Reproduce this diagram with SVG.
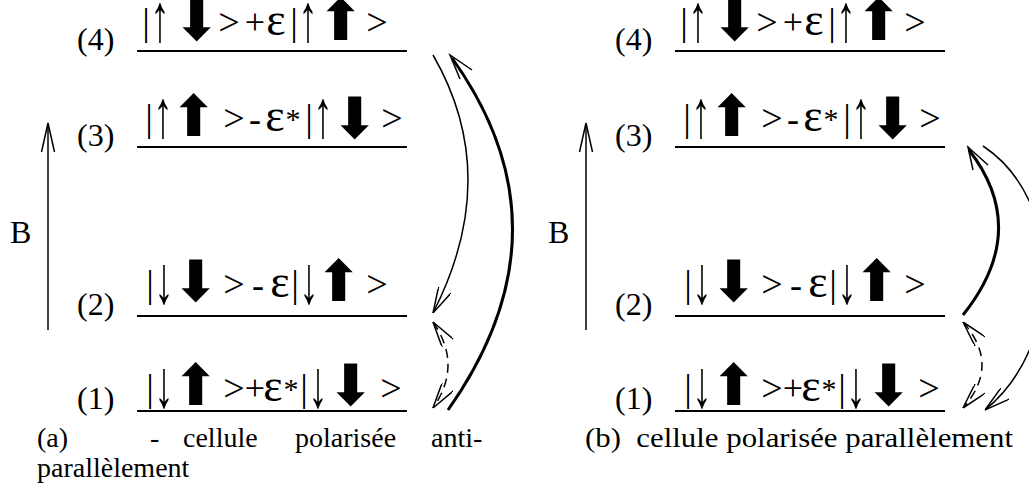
<svg xmlns="http://www.w3.org/2000/svg" width="1029" height="484" viewBox="0 0 1029 484">
<style>
text{fill:#000}
.t{font-family:"Liberation Serif",serif;font-size:38px;text-anchor:middle}
.pm{font-family:"Liberation Serif",serif;font-size:36px;text-anchor:middle}
.ep{font-family:"Liberation Serif",serif;font-size:46px;text-anchor:middle}
.as{font-family:"Liberation Serif",serif;font-size:30px;text-anchor:middle}
.ta{font-family:"Liberation Serif",serif;font-size:32px;text-anchor:middle}
.bk{font-family:"DejaVu Sans",sans-serif;font-size:57px;text-anchor:middle}
.lb{font-family:"Liberation Serif",serif;font-size:32px}
.cap{font-family:"Liberation Serif",serif;font-size:28px}
.lvl{stroke:#000;stroke-width:2}
.ax{fill:none;stroke:#000;stroke-width:1.5}
.thin{fill:none;stroke:#000;stroke-width:1.5}
.thick{fill:none;stroke:#000;stroke-width:3}
.dash{fill:none;stroke:#000;stroke-width:1.5;stroke-dasharray:9 6}
</style>
<defs>
<marker id="ah" viewBox="0 0 26 14" refX="26" refY="7" markerWidth="26" markerHeight="14" markerUnits="userSpaceOnUse" orient="auto-start-reverse">
<path d="M0,0 L26,7 L0,14" fill="none" stroke="#000" stroke-width="1.5"/>
</marker>
</defs>
<g id="panel-a">
<g id="a-axis">
<line class="ax" x1="48" y1="330" x2="48" y2="124"/>
<path class="ax" d="M41.5,152 L48,123 L54.5,152"/>
<text class="lb" x="10" y="243">B</text>
</g>
<g id="a-level4">
<text class="lb" x="77" y="50">(4)</text>
<line class="lvl" x1="137" y1="51" x2="407" y2="51"/>
<text class="t" x="146" y="35">|</text>
<text class="ta" transform="translate(160,41) scale(1.2,2.12)">↑</text>
<text class="bk" x="197" y="40">⬇</text>
<text class="t" x="229" y="35">&gt;</text>
<text class="pm" x="255" y="34">+</text>
<text class="ep" x="276" y="35">ε</text>
<text class="t" x="294" y="35">|</text>
<text class="ta" transform="translate(308,41) scale(1.2,2.12)">↑</text>
<text class="bk" x="341" y="40">⬆</text>
<text class="t" x="377" y="35">&gt;</text>
</g>
<g id="a-level3">
<text class="lb" x="77" y="146">(3)</text>
<line class="lvl" x1="137" y1="147" x2="407" y2="147"/>
<text class="t" x="149" y="131">|</text>
<text class="ta" transform="translate(163,137) scale(1.2,2.12)">↑</text>
<text class="bk" x="194" y="136">⬆</text>
<text class="t" x="234" y="131">&gt;</text>
<text class="pm" x="255" y="131">-</text>
<text class="ep" x="275" y="131">ε</text>
<text class="as" x="293" y="129">*</text>
<text class="t" x="309" y="131">|</text>
<text class="ta" transform="translate(323,137) scale(1.2,2.12)">↑</text>
<text class="bk" x="355" y="138">⬇</text>
<text class="t" x="392" y="131">&gt;</text>
</g>
<g id="a-level2">
<text class="lb" x="77" y="315">(2)</text>
<line class="lvl" x1="137" y1="316" x2="407" y2="316"/>
<text class="t" x="150" y="297">|</text>
<text class="ta" transform="translate(164,303) scale(1.2,2.12)">↓</text>
<text class="bk" x="196" y="301">⬇</text>
<text class="t" x="234" y="297">&gt;</text>
<text class="pm" x="258" y="297">-</text>
<text class="ep" x="280" y="297">ε</text>
<text class="t" x="295" y="297">|</text>
<text class="ta" transform="translate(309,303) scale(1.2,2.12)">↓</text>
<text class="bk" x="339" y="301">⬆</text>
<text class="t" x="377" y="297">&gt;</text>
</g>
<g id="a-level1">
<text class="lb" x="77" y="409">(1)</text>
<line class="lvl" x1="137" y1="411" x2="407" y2="411"/>
<text class="t" x="150" y="401">|</text>
<text class="ta" transform="translate(164,407) scale(1.2,2.12)">↓</text>
<text class="bk" x="196" y="405">⬆</text>
<text class="t" x="234" y="401">&gt;</text>
<text class="pm" x="255" y="400">+</text>
<text class="ep" x="273" y="401">ε</text>
<text class="as" x="291" y="399">*</text>
<text class="t" x="304" y="401">|</text>
<text class="ta" transform="translate(318,407) scale(1.2,2.12)">↓</text>
<text class="bk" x="351" y="405">⬇</text>
<text class="t" x="391" y="401">&gt;</text>
</g>
<g id="a-caption">
<text class="cap" y="447"><tspan x="37">(a)</tspan><tspan x="150">-</tspan><tspan x="183">cellule</tspan><tspan x="295">polarisée</tspan><tspan x="431">anti-</tspan></text>
<text class="cap" x="37" y="477">parallèlement</text>
</g>
</g>
<g id="panel-b">
<g id="b-axis">
<line class="ax" x1="586" y1="330" x2="586" y2="124"/>
<path class="ax" d="M579.5,152 L586,123 L592.5,152"/>
<text class="lb" x="548" y="243">B</text>
</g>
<g id="b-level4" transform="translate(538,0)">
<text class="lb" x="77" y="50">(4)</text>
<line class="lvl" x1="137" y1="51" x2="407" y2="51"/>
<text class="t" x="146" y="35">|</text>
<text class="ta" transform="translate(160,41) scale(1.2,2.12)">↑</text>
<text class="bk" x="197" y="40">⬇</text>
<text class="t" x="229" y="35">&gt;</text>
<text class="pm" x="255" y="34">+</text>
<text class="ep" x="276" y="35">ε</text>
<text class="t" x="294" y="35">|</text>
<text class="ta" transform="translate(308,41) scale(1.2,2.12)">↑</text>
<text class="bk" x="341" y="40">⬆</text>
<text class="t" x="377" y="35">&gt;</text>
</g>
<g id="b-level3" transform="translate(538,0)">
<text class="lb" x="77" y="146">(3)</text>
<line class="lvl" x1="137" y1="147" x2="407" y2="147"/>
<text class="t" x="149" y="131">|</text>
<text class="ta" transform="translate(163,137) scale(1.2,2.12)">↑</text>
<text class="bk" x="194" y="136">⬆</text>
<text class="t" x="234" y="131">&gt;</text>
<text class="pm" x="255" y="131">-</text>
<text class="ep" x="275" y="131">ε</text>
<text class="as" x="293" y="129">*</text>
<text class="t" x="309" y="131">|</text>
<text class="ta" transform="translate(323,137) scale(1.2,2.12)">↑</text>
<text class="bk" x="355" y="138">⬇</text>
<text class="t" x="392" y="131">&gt;</text>
</g>
<g id="b-level2" transform="translate(538,0)">
<text class="lb" x="77" y="315">(2)</text>
<line class="lvl" x1="137" y1="316" x2="407" y2="316"/>
<text class="t" x="150" y="297">|</text>
<text class="ta" transform="translate(164,303) scale(1.2,2.12)">↓</text>
<text class="bk" x="196" y="301">⬇</text>
<text class="t" x="234" y="297">&gt;</text>
<text class="pm" x="258" y="297">-</text>
<text class="ep" x="280" y="297">ε</text>
<text class="t" x="295" y="297">|</text>
<text class="ta" transform="translate(309,303) scale(1.2,2.12)">↓</text>
<text class="bk" x="339" y="301">⬆</text>
<text class="t" x="377" y="297">&gt;</text>
</g>
<g id="b-level1" transform="translate(538,0)">
<text class="lb" x="77" y="409">(1)</text>
<line class="lvl" x1="137" y1="411" x2="407" y2="411"/>
<text class="t" x="150" y="401">|</text>
<text class="ta" transform="translate(164,407) scale(1.2,2.12)">↓</text>
<text class="bk" x="196" y="405">⬆</text>
<text class="t" x="234" y="401">&gt;</text>
<text class="pm" x="255" y="400">+</text>
<text class="ep" x="273" y="401">ε</text>
<text class="as" x="291" y="399">*</text>
<text class="t" x="304" y="401">|</text>
<text class="ta" transform="translate(318,407) scale(1.2,2.12)">↓</text>
<text class="bk" x="351" y="405">⬇</text>
<text class="t" x="391" y="401">&gt;</text>
</g>
<g id="b-caption">
<text class="cap" x="585" y="447" textLength="428" lengthAdjust="spacingAndGlyphs">(b)&#160; cellule polarisée parallèlement</text>
</g>
</g>
<g id="connectors">
<path class="thin" d="M433,55 Q503,176 433,313" marker-end="url(#ah)"/>
<path class="thick" d="M448,410 Q575,230 452,58"/>
<path d="M460,79 L450,55 L472,70" fill="none" stroke="#000" stroke-width="1.5"/>
<path class="dash" d="M433,322 Q463,365 433,408" marker-start="url(#ah)" marker-end="url(#ah)"/>
<path class="thick" d="M963,315 Q1031,230 969,150"/>
<path d="M973,170 L968,147 L988,165" fill="none" stroke="#000" stroke-width="1.5"/>
<path class="thin" d="M983,146 C1065,200 1065,345 985,410" marker-end="url(#ah)"/>
<path class="dash" d="M963,322 Q1001,365 963,408" marker-start="url(#ah)" marker-end="url(#ah)"/>
</g>
</svg>
